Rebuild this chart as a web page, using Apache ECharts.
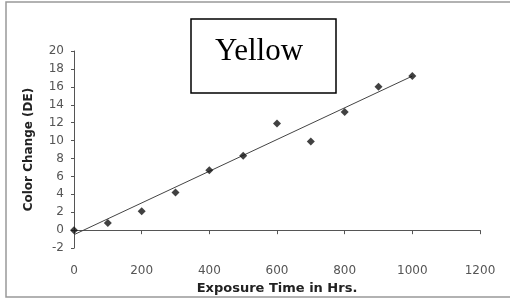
<!DOCTYPE html>
<html>
<head>
<meta charset="utf-8">
<script src="https://cdn.jsdelivr.net/npm/echarts@6/dist/echarts.min.js"></script>
<style>html,body{margin:0;padding:0;background:#fff;}#c{width:510px;height:300px;}</style>
</head>
<body>
<div id="c"></div>
<script>
const hours = [0, 100, 200, 300, 400, 500, 600, 700, 800, 900, 1000];
const colorChange = [0.0, 0.8, 2.1, 4.2, 6.7, 8.3, 11.9, 9.9, 13.2, 16.0, 17.2];
const trendX = [0, 1000];
const trendY = [-0.5, 17.2];
const xTicks = [0, 200, 400, 600, 800, 1000, 1200];
const yTicks = [-2, 0, 2, 4, 6, 8, 10, 12, 14, 16, 18, 20];
const titleText = 'Yellow';

const chart = echarts.init(document.getElementById('c'), null, {renderer: 'canvas'});
const labelStyle = {fontFamily: 'DejaVu Sans', fontSize: 12, color: '#555'};
chart.setOption({
  animation: false,
  backgroundColor: '#fff',
  grid: {left: 74, right: 30, top: 51, bottom: 33.4},
  xAxis: {
    type: 'value', min: xTicks[0], max: xTicks[xTicks.length - 1], interval: 200,
    axisLine: {onZero: true, lineStyle: {color: '#555', width: 1}},
    axisTick: {show: true, inside: false, length: 4, lineStyle: {color: '#555'}},
    axisLabel: Object.assign({margin: 17, formatter: v => String(v)}, labelStyle),
    splitLine: {show: false},
    name: 'Exposure Time in Hrs.', nameLocation: 'middle', nameGap: 33,
    nameTextStyle: {fontFamily: 'DejaVu Sans', fontWeight: 'bold', fontSize: 13, color: '#222'}
  },
  yAxis: {
    type: 'value', min: yTicks[0], max: yTicks[yTicks.length - 1], interval: 2,
    axisLine: {show: true, onZero: false, lineStyle: {color: '#555', width: 1}},
    axisTick: {show: true, inside: false, length: 3, lineStyle: {color: '#555'}},
    axisLabel: Object.assign({margin: 10, formatter: v => String(v)}, labelStyle),
    splitLine: {show: false},
    name: 'Color Change (DE)', nameLocation: 'middle', nameGap: 39, nameRotate: 90,
    nameTextStyle: {fontFamily: 'DejaVu Sans', fontWeight: 'bold', fontSize: 12, color: '#222'}
  },
  series: [
    {
      type: 'line', data: trendX.map((x, i) => [x, trendY[i]]),
      symbol: 'none', lineStyle: {color: '#444', width: 1}, z: 2
    },
    {
      type: 'scatter', data: hours.map((h, i) => [h, colorChange[i]]),
      symbol: 'diamond', symbolSize: 8, itemStyle: {color: '#111'}, z: 3
    }
  ],
  graphic: [
    {type: 'rect', shape: {x: 6, y: 2, width: 510, height: 295}, style: {fill: 'none', stroke: '#999', lineWidth: 1.5}, silent: true},
    {type: 'rect', shape: {x: 191, y: 19, width: 145, height: 74}, style: {fill: '#fff', stroke: '#000', lineWidth: 1.5}, z: 10},
    {type: 'text', x: 259, y: 52, style: {text: titleText, fontFamily: 'Liberation Serif', fontSize: 31, fill: '#000', align: 'center', verticalAlign: 'middle'}, z: 11}
  ]
});
</script>
</body>
</html>
